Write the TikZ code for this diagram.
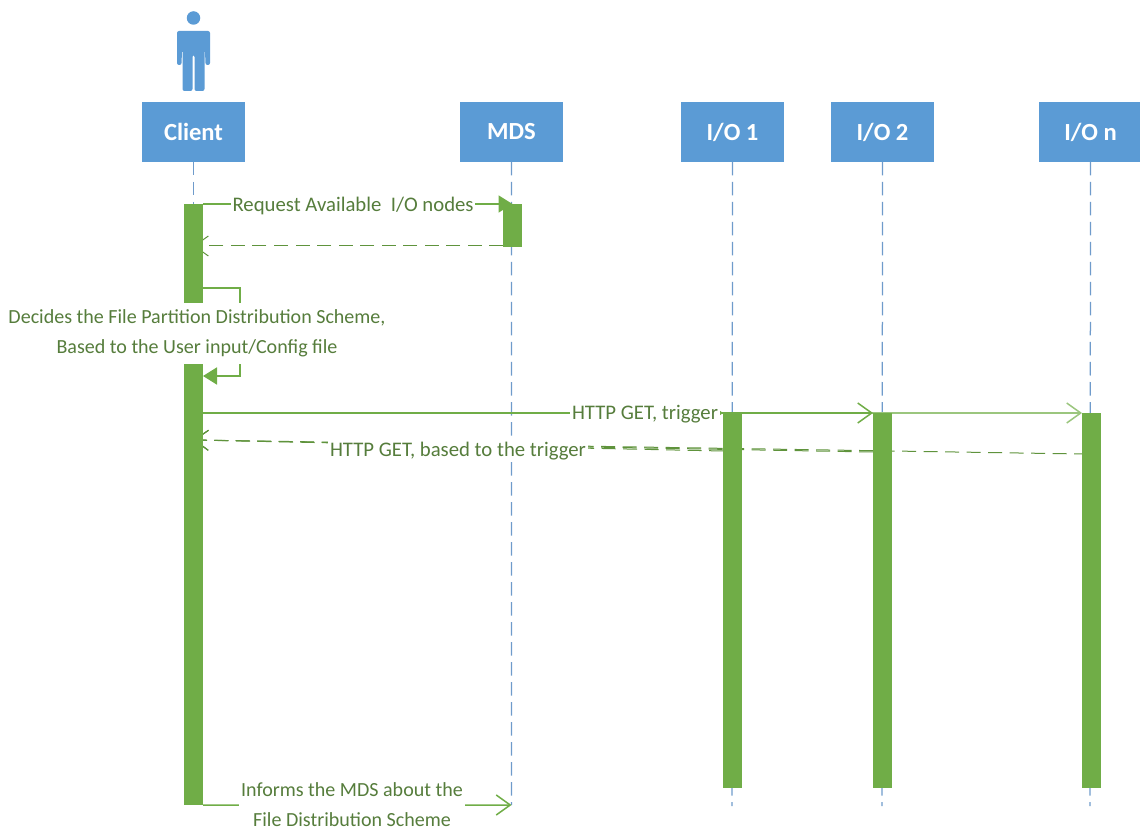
\documentclass[tikz,border=0pt]{standalone}
\usepackage{xcolor}
\usepackage{fontspec}
\setmainfont{Carlito}
\usepackage{tikz}
\usetikzlibrary{positioning, arrows.meta}

\definecolor{headblue}{HTML}{5B9BD5}
\definecolor{lifeblue}{HTML}{6F9BCB}
\definecolor{barfill}{HTML}{70AD47}
\definecolor{msgtext}{HTML}{567D3C}

\begin{document}
\begin{tikzpicture}[
    x=0.2mm, y=-0.2mm,
    every node/.style={outer sep=0pt},
    header/.style={rectangle, fill=headblue, text=white, minimum width=20.6mm, minimum height=12mm, inner sep=0pt, font=\fontsize{14}{16}\selectfont\bfseries},
    lifeline/.style={lifeblue, line width=0.25mm, dash pattern=on 2.7mm off 1.3mm},
    bar/.style={rectangle, fill=barfill, minimum width=3.8mm, inner sep=0pt, anchor=north},
    msg/.style={fill=white, text=msgtext, align=center, inner sep=1pt, font=\fontsize{11.4}{17}\selectfont},
    widemsg/.style={msg, font=\fontsize{11.8}{17}\selectfont},
    call/.style={-{Triangle[length=2.8mm, width=3.4mm]}, barfill, line width=0.35mm},
    plainarrow/.style={-{Straight Barb[length=2.8mm, width=4mm]}, barfill, line width=0.3mm},
    reply/.style={-{Straight Barb[length=2.8mm, width=4mm]}, barfill!85!black, line width=0.2mm, dash pattern=on 2.8mm off 1.5mm},
]
    \useasboundingbox (0,0) rectangle (1140,830);

    % --- client figure ---
    \fill[headblue] (193.5,18) circle (1.35mm);
    \fill[headblue, rounded corners=0.4mm] (177,31) -- (210,31) -- (210,65) -- (205.5,65) -- (205,50) -- (204.5,50) -- (204.5,91) -- (194.5,91) -- (194.5,55) -- (192.5,55) -- (192.5,91) -- (182.5,91) -- (182.5,50) -- (182,50) -- (181.5,65) -- (177,65) -- cycle;

    % --- headers ---
    \node[header] (client) at (193.5,132) {Client};
    \node[header, right=43mm of client] (mds) {MDS};
    \node[header, right=23.6mm of mds] (ioa) {I/O 1};
    \node[header, right=9.4mm of ioa] (iob) {I/O 2};
    \node[header, right=21mm of iob] (ion) {I/O n};

    % --- life lines ---
    \coordinate (clientend) at (193.5,805);
    \coordinate (mdsend) at (511.5,805);
    \coordinate (ioaend) at (732,806);
    \coordinate (iobend) at (882,806);
    \coordinate (ionend) at (1090,806);
    \draw[lifeline] (client) -- (clientend);
    \draw[lifeline] (mds) -- (mdsend);
    \draw[lifeline] (ioa) -- (ioaend);
    \draw[lifeline] (iob) -- (iobend);
    \draw[lifeline] (ion) -- (ionend);

    % --- trigger messages, under the bars ---
    \coordinate (trigger) at (203,413);
    \coordinate (stopn) at (1082,413);
    \coordinate (stopb) at (873,413);
    \coordinate (stopa) at (723,413);
    \draw[plainarrow, barfill!70!white] (trigger) -- (stopn);
    \draw[plainarrow] (trigger) -- (stopb);
    \draw[plainarrow, line width=0.55mm, {-{Straight Barb[length=1.4mm, width=2mm]}}] (trigger) -- node[widemsg, pos=0.85, yshift=-0.3mm] (getlabel) {HTTP GET, trigger} (stopa);

    % --- replies, under the bars ---
    \coordinate (backa) at (723,451);
    \coordinate (backb) at (873,452);
    \coordinate (backn) at (1082,454);
    \coordinate (backc) at (193.5,440);
    \coordinate (mdsback) at (503,246);
    \coordinate (reqback) at (193.5,246);
    \draw[reply] (mdsback) -- (reqback);
    \draw[reply] (backa) -- (backc);
    \draw[reply] (backb) -- (backc);
    \draw[reply, dash phase=1.2mm] (backn) -- (backc);

    % --- activation bars ---
    \node[bar, minimum height=120.2mm] (clientbar) at (193.5,204) {};
    \node[bar, minimum height=8.6mm] (mdsbar) at (512.5,204) {};
    \node[bar, minimum height=75mm] (ioabar) at (732,413) {};
    \node[bar, minimum height=75mm] (iobbar) at (882,413) {};
    \node[bar, minimum height=75mm] (ionbar) at (1091,413) {};

    % --- request ---
    \draw[call] (clientbar.north east) -- node[widemsg, pos=0.485, yshift=-0.4mm] (reqlabel) {Request Available\ \ I/O nodes} (mdsbar.north);

    % --- self call ---
    \coordinate (selfa) at (203,288);
    \coordinate (selfb) at (240,288);
    \coordinate (selfc) at (240,376);
    \coordinate (selfd) at (203,376);
    \draw[call] (selfa) -- (selfb) -- (selfc) -- (selfd);
    \node[msg, minimum height=12.2mm, minimum width=75.6mm] (selflabel) at (197,333.5) {Decides the File Partition Distribution Scheme,\\Based to the User input/Config file};

    % --- reply label ---
    \node[widemsg] (replabel) at (458,451) {HTTP GET, based to the trigger};

    % --- scheme message ---
    \coordinate (schemeend) at (511.5,805);
    \draw[plainarrow] (clientbar.south east) -- (schemeend);
    \node[msg] (schemelabel) at (352,805) {Informs the MDS about the\\File Distribution Scheme};
\end{tikzpicture}
\end{document}
